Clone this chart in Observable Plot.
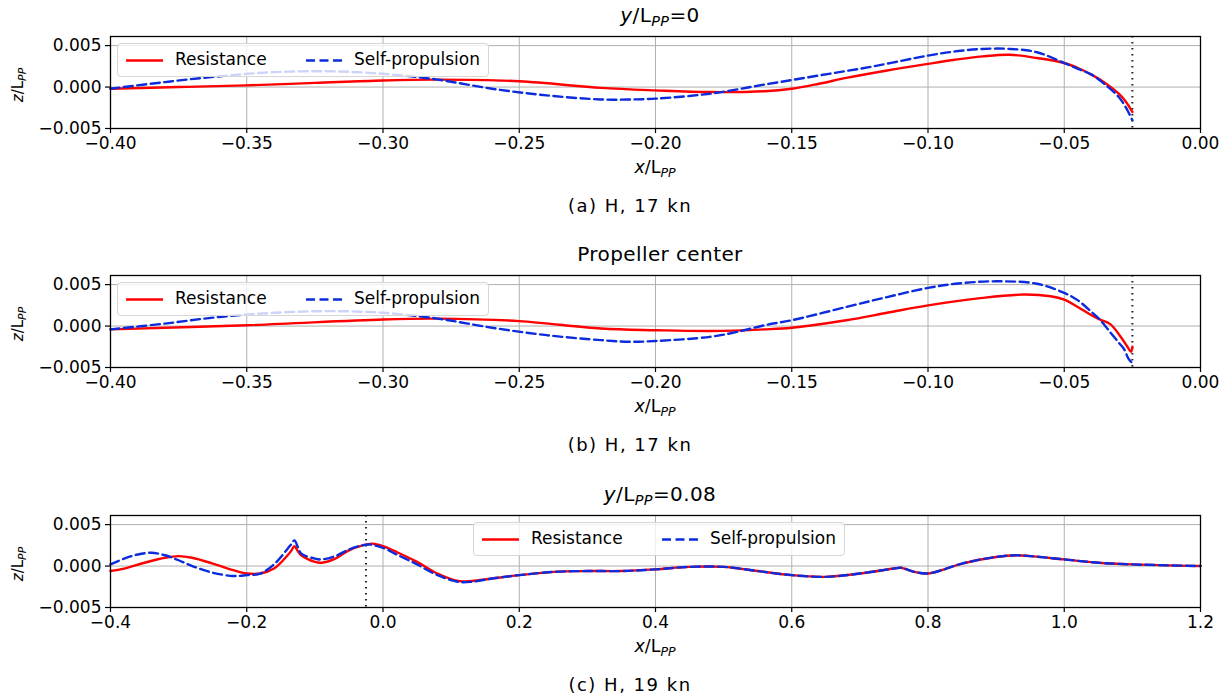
<!DOCTYPE html>
<html>
<head>
<meta charset="utf-8">
<script src="https://cdn.jsdelivr.net/npm/d3@7"></script>
<script src="https://cdn.jsdelivr.net/npm/@observablehq/plot@0.6"></script>
<style>
  body { margin: 0; background: #fff; }
  #root { position: relative; width: 1228px; height: 699px; overflow: hidden; font-family: "DejaVu Sans", sans-serif; color: #000; }
  .abs { position: absolute; }
  .title { font-size: 20px; letter-spacing: 0.4px; text-align: center; white-space: nowrap; }
  .xlab { font-size: 17.5px; text-align: center; white-space: nowrap; }
  .ylab { font-size: 15px; white-space: nowrap; transform: rotate(-90deg); transform-origin: center center; text-align: center; width: 80px; }
  .cap { font-family: "DejaVu Sans", sans-serif; font-size: 18px; letter-spacing: 1.5px; text-align: center; white-space: nowrap; }
  .sub { font-size: 0.72em; font-style: italic; position: relative; top: 0.3em; }
  .legend { border: 1px solid #d6d6d6; border-radius: 4px; background: rgba(255,255,255,0.8); box-sizing: border-box; font-size: 17px; }
  .legend span { position: absolute; top: 5px; white-space: nowrap; }
  .legend svg { position: absolute; top: 0; }
</style>
</head>
<body>
<div id="root"></div>
<script>
// ---------- data ----------
const seriesNames = ["Resistance", "Self-propulsion"];
const captions = ["(a) H, 17 kn", "(b) H, 17 kn", "(c) H, 19 kn"];
const propellerX = [-0.025];

const xTicksAB = [-0.40, -0.35, -0.30, -0.25, -0.20, -0.15, -0.10, -0.05, 0.00];
const xTicksC = [-0.4, -0.2, 0.0, 0.2, 0.4, 0.6, 0.8, 1.0, 1.2];
const yTicks = [-0.005, 0.000, 0.005];

// Panel (a): y/Lpp = 0
const aResX = [-0.40,-0.375,-0.35,-0.325,-0.30,-0.28,-0.25,-0.22,-0.20,-0.18,-0.16,-0.15,-0.14,-0.13,-0.115,-0.10,-0.09,-0.08,-0.07,-0.06,-0.05,-0.045,-0.04,-0.035,-0.03,-0.0275,-0.025];
const aResZ = [-0.0002,0.0000,0.0002,0.0005,0.0008,0.0009,0.0007,-0.0001,-0.0004,-0.0006,-0.0005,-0.0002,0.0004,0.0011,0.0020,0.0028,0.0033,0.0037,0.0039,0.0035,0.0029,0.0023,0.0015,0.0005,-0.0008,-0.0017,-0.0030];
const aSpX = [-0.40,-0.38,-0.36,-0.34,-0.32,-0.30,-0.28,-0.26,-0.24,-0.22,-0.21,-0.20,-0.18,-0.16,-0.14,-0.12,-0.10,-0.09,-0.08,-0.07,-0.06,-0.05,-0.045,-0.04,-0.035,-0.03,-0.0275,-0.025];
const aSpZ = [-0.0002,0.0006,0.0013,0.0018,0.0019,0.0016,0.0009,-0.0002,-0.0010,-0.0015,-0.0015,-0.0014,-0.0008,0.0003,0.0014,0.0025,0.0038,0.0043,0.0046,0.0046,0.0042,0.0029,0.0022,0.0015,0.0003,-0.0012,-0.0024,-0.0040];

// Panel (b): propeller center
const bResX = [-0.40,-0.35,-0.30,-0.28,-0.25,-0.22,-0.20,-0.18,-0.16,-0.15,-0.13,-0.115,-0.10,-0.08,-0.065,-0.055,-0.05,-0.045,-0.04,-0.037,-0.033,-0.0295,-0.027,-0.0255,-0.025];
const bResZ = [-0.0004,0.0001,0.0008,0.0009,0.0006,-0.0003,-0.0005,-0.0006,-0.0004,-0.0002,0.0007,0.0016,0.0025,0.0034,0.0038,0.0036,0.0032,0.0023,0.0013,0.0008,0.0002,-0.0012,-0.0024,-0.0031,-0.0025];
const bSpX = [-0.40,-0.38,-0.36,-0.34,-0.32,-0.30,-0.28,-0.26,-0.24,-0.22,-0.21,-0.20,-0.18,-0.17,-0.16,-0.15,-0.13,-0.115,-0.10,-0.09,-0.075,-0.06,-0.05,-0.045,-0.04,-0.037,-0.033,-0.030,-0.028,-0.0265,-0.025];
const bSpZ = [-0.0004,0.0003,0.0011,0.0016,0.0018,0.0016,0.0009,-0.0002,-0.0011,-0.0017,-0.0019,-0.0018,-0.0013,-0.0007,0.0001,0.0007,0.0023,0.0035,0.0046,0.0051,0.0054,0.0051,0.0040,0.0031,0.0017,0.0008,-0.0008,-0.0020,-0.0028,-0.0039,-0.0045];

// Panel (c): y/Lpp = 0.08
const cResX = [-0.40,-0.38,-0.35,-0.32,-0.30,-0.28,-0.25,-0.22,-0.20,-0.18,-0.16,-0.14,-0.135,-0.13,-0.125,-0.12,-0.10,-0.09,-0.07,-0.05,-0.03,-0.015,0.0,0.02,0.05,0.08,0.11,0.13,0.16,0.20,0.25,0.30,0.35,0.40,0.45,0.50,0.55,0.60,0.65,0.70,0.75,0.76,0.78,0.80,0.82,0.85,0.90,0.93,0.95,1.00,1.05,1.10,1.20];
const cResZ = [-0.0006,-0.0003,0.0004,0.0010,0.0012,0.0010,0.0003,-0.0005,-0.0009,-0.0009,-0.0003,0.0013,0.0018,0.0024,0.0018,0.0013,0.0005,0.0004,0.0009,0.0019,0.0025,0.0027,0.0024,0.0017,0.0005,-0.0009,-0.0018,-0.0018,-0.0015,-0.0011,-0.0007,-0.0006,-0.0006,-0.0004,-0.0001,-0.0001,-0.0006,-0.0011,-0.0013,-0.0009,-0.0003,-0.0002,-0.0007,-0.0009,-0.0005,0.0003,0.0011,0.0013,0.0012,0.0008,0.0004,0.0002,0.0000];
const cSpX = [-0.40,-0.38,-0.36,-0.34,-0.32,-0.30,-0.28,-0.25,-0.22,-0.20,-0.18,-0.16,-0.14,-0.135,-0.13,-0.125,-0.12,-0.10,-0.09,-0.07,-0.05,-0.03,-0.02,0.0,0.02,0.05,0.08,0.11,0.13,0.16,0.20,0.25,0.30,0.35,0.40,0.45,0.50,0.55,0.60,0.65,0.70,0.75,0.76,0.78,0.80,0.82,0.85,0.90,0.93,0.95,1.00,1.05,1.10,1.20];
const cSpZ = [0.0002,0.0009,0.0014,0.0016,0.0013,0.0007,0.0000,-0.0008,-0.0012,-0.0011,-0.0009,0.0002,0.0021,0.0026,0.0031,0.0023,0.0015,0.0009,0.0008,0.0012,0.0020,0.0025,0.0026,0.0022,0.0014,0.0002,-0.0011,-0.0019,-0.0019,-0.0015,-0.0011,-0.0007,-0.0006,-0.0006,-0.0004,-0.0001,-0.0001,-0.0006,-0.0011,-0.0013,-0.0009,-0.0003,-0.0002,-0.0007,-0.0009,-0.0005,0.0003,0.0011,0.0013,0.0012,0.0008,0.0004,0.0002,0.0000];

// ---------- drawing ----------
const RED = "#ff0000", BLUE = "#0b2bdc";
const root = document.getElementById("root");
const zip = (xs, zs) => xs.map((x, i) => ({x, z: zs[i]}));
const LPP = 'L<span class="sub">PP</span>';

const panels = [
  {top: 0, title: `<i>y</i>/${LPP}=0`, domain: [-0.4, 0], ticks: xTicksAB, fmt: d3.format(".2f"),
   res: zip(aResX, aResZ), sp: zip(aSpX, aSpZ), legendLeft: 117},
  {top: 239, title: "Propeller center", domain: [-0.4, 0], ticks: xTicksAB, fmt: d3.format(".2f"),
   res: zip(bResX, bResZ), sp: zip(bSpX, bSpZ), legendLeft: 117},
  {top: 479, title: `<i>y</i>/${LPP}=0.08`, domain: [-0.4, 1.2], ticks: xTicksC, fmt: d3.format(".1f"),
   res: zip(cResX, cResZ), sp: zip(cSpX, cSpZ), legendLeft: 473}
];

function addDiv(cls, html, style) {
  const d = document.createElement("div");
  d.className = "abs " + cls;
  d.innerHTML = html;
  Object.assign(d.style, style);
  root.appendChild(d);
  return d;
}

panels.forEach((p, i) => {
  const T = p.top;
  addDiv("title", p.title, {left: "110px", width: "1100px", top: (T + 3) + "px"});

  const chart = Plot.plot({
    width: 1228, height: 132,
    marginLeft: 110, marginRight: 28, marginTop: 10, marginBottom: 30,
    style: {fontFamily: "DejaVu Sans", fontSize: "17px", color: "#000", background: "transparent", overflow: "visible"},
    x: {domain: p.domain},
    y: {domain: [-0.005, 0.0061]},
    marks: [
      Plot.gridX(p.ticks, {stroke: "#b0b0b0", strokeOpacity: 1, strokeWidth: 1}),
      Plot.gridY(yTicks, {stroke: "#b0b0b0", strokeOpacity: 1, strokeWidth: 1}),
      Plot.ruleX(propellerX, {stroke: "#222", strokeWidth: 2, strokeDasharray: "1.5,4.5"}),
      Plot.line(p.res, {x: "x", y: "z", stroke: RED, strokeWidth: 2.4, curve: "catmull-rom"}),
      Plot.line(p.sp, {x: "x", y: "z", stroke: BLUE, strokeWidth: 2.4, strokeDasharray: "9,4.5", curve: "catmull-rom"}),
      Plot.frame({stroke: "#000", strokeWidth: 1.3}),
      Plot.axisX({ticks: p.ticks, tickFormat: p.fmt, tickSize: 5, tickPadding: 3, label: null, strokeWidth: 1.2}),
      Plot.axisY({ticks: yTicks, tickFormat: d3.format(".3f"), tickSize: 5, tickPadding: 4, label: null, strokeWidth: 1.2})
    ]
  });
  chart.style.position = "absolute";
  chart.style.left = "0px";
  chart.style.top = (T + 26) + "px";
  root.appendChild(chart);

  // axis labels
  addDiv("xlab", `<i>x</i>/${LPP}`, {left: "110px", width: "1090px", top: (T + 157) + "px"});
  addDiv("ylab", `<i>z</i>/${LPP}`, {left: (18 - 40) + "px", top: (T + 86 - 10) + "px"});
  // caption
  addDiv("cap", captions[i], {left: "430px", width: "400px", top: (T + 195) + "px"});

  // legend
  const lg = addDiv("legend", "", {left: p.legendLeft + "px", top: (T + 43) + "px", width: "372px", height: "34px"});
  lg.innerHTML =
    `<svg width="372" height="34"><line x1="8" x2="45" y1="16.5" y2="16.5" stroke="${RED}" stroke-width="2.4"/>` +
    `<line x1="188" x2="226" y1="16.5" y2="16.5" stroke="${BLUE}" stroke-width="2.4" stroke-dasharray="9,4.5"/></svg>` +
    `<span style="left:57px">${seriesNames[0]}</span><span style="left:236px">${seriesNames[1]}</span>`;
});
</script>
</body>
</html>
